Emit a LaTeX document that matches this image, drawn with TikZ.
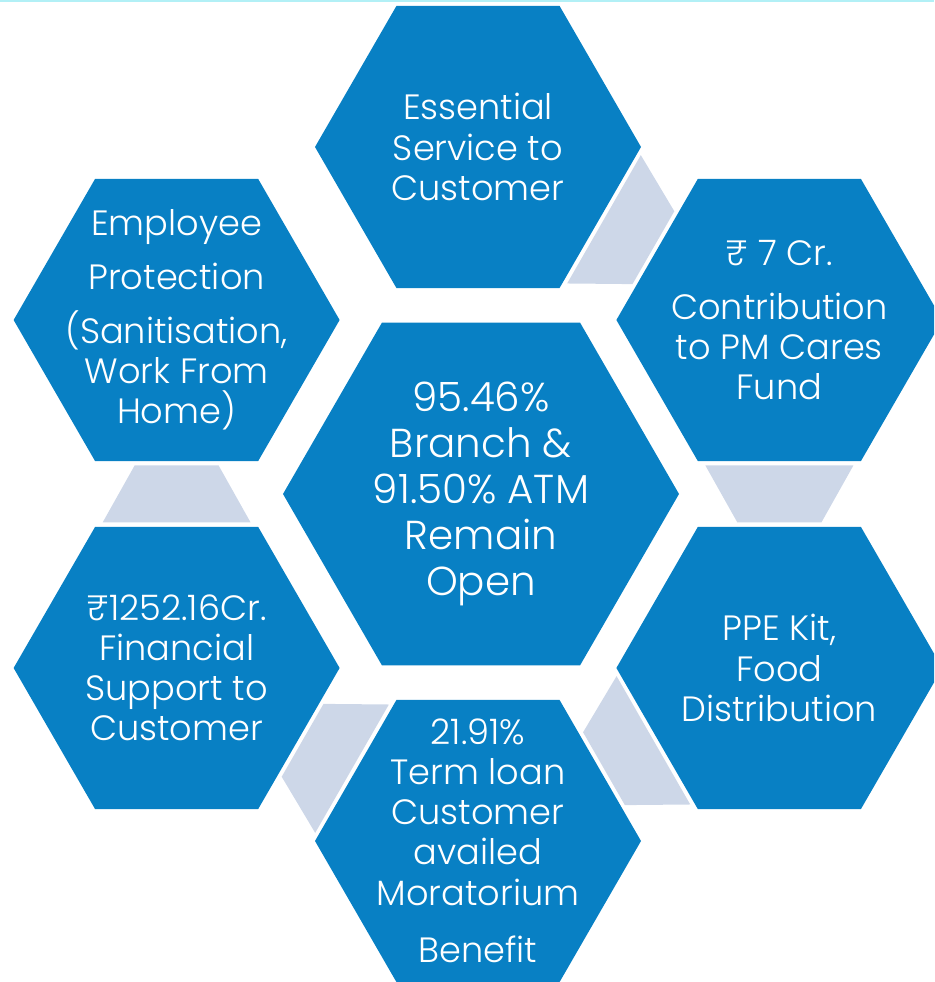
\documentclass[tikz,border=0pt]{standalone}
\usepackage{fontspec}
\setmainfont{Poppins}[UprightFont=* Light]
\usepackage{tikz}
\usetikzlibrary{shapes.geometric,calc}
\definecolor{hexblue}{RGB}{8,128,196}
\definecolor{linkgray}{RGB}{205,215,232}
\definecolor{topline}{RGB}{178,240,246}

% trapezoid in the gap between two hexagons, wide side at the first one
\newcommand{\hexlink}[2]{%
  \coordinate (mid) at ($(#1.center)!.5!(#2.center)$);
  \coordinate (wide) at ($(mid)!0.285cm!(#1.center)$);
  \coordinate (narrow) at ($(mid)!0.285cm!(#2.center)$);
  \fill[link] ($(wide)!0.74cm!90:(#1.center)$) -- ($(wide)!0.74cm!-90:(#1.center)$)
    -- ($(narrow)!0.42cm!90:(#2.center)$) -- ($(narrow)!0.42cm!-90:(#2.center)$) -- cycle;
}

\begin{document}
\begin{tikzpicture}[
        hex/.style={regular polygon, regular polygon sides=6,
                    fill=hexblue, inner sep=0pt, minimum size=3.26cm},
        hexbig/.style={hex, minimum size=3.96cm},
        txt/.style={align=center, text=white, font=\fontsize{10}{11.4}\selectfont},
        txtbig/.style={txt, font=\fontsize{11.5}{13.1}\selectfont},
        link/.style={fill=linkgray},
    ]
    \useasboundingbox (-4.78,-4.88) rectangle (4.56,4.94);
    \clip (-4.78,-4.88) rectangle (4.56,4.94);
    \fill[topline] (-4.78,4.92) rectangle (4.56,4.94);

    % Centre hexagon
    \node[hexbig] (open) at (0.03,0) {};
    \node[txtbig] (open-txt) at (open) {95.46\%\\Branch \&\\91.50\% ATM\\Remain\\Open};

    % Outer ring, clockwise from the top
    \node[hex] (service) at (90:3.47) {};
    \node[hex] (fund) at (30:3.48) {};
    \node[hex] (ppe) at (-30:3.48) {};
    \node[hex] (loan) at (-90:3.47) {};
    \node[hex] (support) at (-150:3.48) {};
    \node[hex] (staff) at (150:3.48) {};

    \node[txt] (service-txt) at (service) {Essential\\Service to\\Customer};
    \node[txt] (fund-txt) at (fund) {₹ 7 Cr.\\[4pt]Contribution\\to PM Cares\\Fund};
    \node[txt] (ppe-txt) at (ppe) {PPE Kit,\\Food\\Distribution};
    \node[txt] (loan-txt) at (loan) {21.91\%\\Term loan\\Customer\\availed\\Moratorium\\[5pt]Benefit};
    \node[txt] (support-txt) at (support) {₹1252.16Cr.\\Financial\\Support to\\Customer};
    \node[txt] (staff-txt) at (staff) {Employee\\[4pt]Protection\\[4pt](Sanitisation,\\Work From\\Home)};

    % Links between neighbours
    \foreach \a/\b in {service/fund, fund/ppe, ppe/loan, loan/support, support/staff}
        \hexlink{\a}{\b};
\end{tikzpicture}
\end{document}
